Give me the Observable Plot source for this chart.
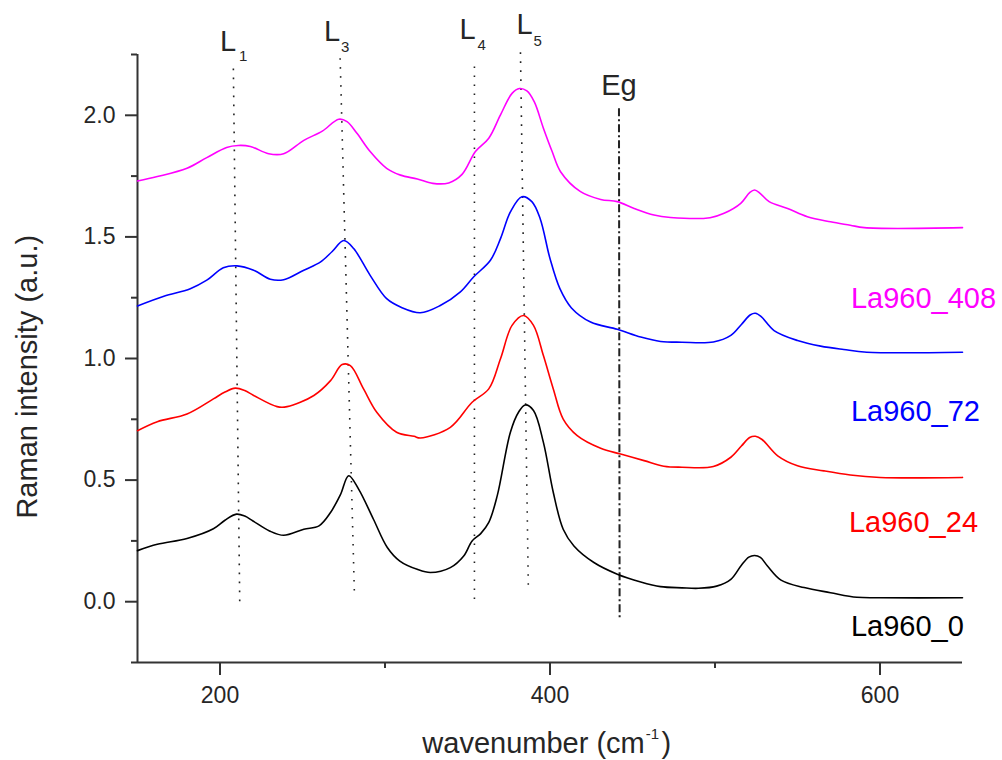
<!DOCTYPE html>
<html><head><meta charset="utf-8">
<script src="https://cdn.jsdelivr.net/npm/d3@7"></script>
<script src="https://cdn.jsdelivr.net/npm/@observablehq/plot@0.6"></script>
<style>html,body{margin:0;padding:0;background:#fff;} #chart{width:1002px;height:760px;}</style>
</head><body><div id="chart"></div>
<script>
// ---- data: [wavenumber (cm-1), Raman intensity (a.u., offset)] ----
const la960_0 = [[150,0.21],[162,0.236],[180,0.26],[196,0.30],[203,0.335],[210,0.36],[215,0.352],[220,0.332],[230,0.291],[238.6,0.273],[250.8,0.298],[260,0.312],[267,0.367],[273,0.44],[278,0.518],[284,0.463],[293,0.339],[301.4,0.223],[309,0.167],[319.5,0.133],[327.5,0.12],[339.6,0.14],[347.7,0.188],[352.8,0.25],[358,0.28],[362.9,0.326],[368,0.435],[376,0.697],[381,0.78],[385,0.809],[390,0.786],[396,0.655],[402,0.449],[408,0.298],[414.5,0.229],[426.6,0.161],[440.8,0.113],[455,0.081],[467,0.062],[480,0.057],[490,0.055],[501,0.064],[509.6,0.092],[516,0.15],[520.5,0.183],[524,0.19],[527.5,0.182],[531.8,0.147],[540,0.089],[554,0.058],[570,0.037],[586,0.018],[600,0.016],[650,0.016]];
const la960_24 = [[150,0.703],[162,0.74],[180,0.772],[196,0.834],[203,0.862],[209.3,0.878],[215,0.868],[220.4,0.848],[234.6,0.802],[240.7,0.802],[256.9,0.848],[267,0.909],[274,0.975],[279,0.971],[287,0.875],[295,0.779],[307,0.697],[317.6,0.68],[321.4,0.673],[339.6,0.717],[352.8,0.82],[362.9,0.875],[370,0.999],[377,1.136],[384,1.177],[390,1.136],[396,1.012],[402,0.875],[408,0.751],[416.5,0.683],[430.7,0.631],[442.8,0.607],[457,0.58],[469,0.557],[480,0.553],[499,0.556],[509.6,0.594],[516,0.64],[521,0.675],[524.5,0.68],[528.5,0.667],[538,0.6],[550,0.559],[566,0.538],[582,0.521],[600,0.511],[650,0.511]];
const la960_72 = [[150,1.216],[166,1.256],[182,1.287],[192,1.322],[202,1.373],[210.3,1.381],[220.4,1.363],[230.5,1.326],[238.6,1.324],[250.8,1.363],[261,1.397],[268,1.44],[275,1.485],[281,1.452],[291,1.342],[301,1.246],[310,1.21],[321.4,1.188],[333.5,1.218],[345.7,1.274],[353.8,1.336],[363.9,1.404],[370,1.493],[376,1.603],[383,1.665],[389,1.645],[394,1.576],[400,1.411],[406,1.287],[413,1.208],[424.6,1.15],[440.8,1.12],[455,1.088],[467,1.07],[480,1.067],[499,1.068],[509.6,1.095],[516,1.14],[521.5,1.18],[524.5,1.186],[528,1.172],[535.8,1.115],[550,1.074],[564,1.051],[578,1.037],[592,1.026],[650,1.026]];
const la960_408 = [[150,1.73],[162,1.748],[180,1.782],[192,1.826],[204,1.868],[211,1.876],[218.4,1.872],[229.5,1.842],[238.6,1.842],[250.8,1.897],[262,1.935],[272,1.984],[277,1.974],[283,1.926],[291,1.851],[301,1.782],[309.4,1.754],[319.6,1.738],[329,1.72],[338.6,1.722],[346.7,1.757],[354.8,1.851],[362.9,1.906],[370,2.002],[377,2.09],[381.5,2.11],[386,2.1],[390.5,2.055],[396,1.947],[401.3,1.851],[406.4,1.768],[418.5,1.686],[430.7,1.654],[440.8,1.645],[451,1.617],[463,1.59],[473,1.58],[497,1.579],[505.5,1.597],[515.6,1.638],[521,1.682],[524,1.693],[527.5,1.678],[532.8,1.645],[544,1.617],[556,1.583],[570,1.562],[582,1.548],[590.5,1.538],[650,1.538]];

const seriesNames = ["La960_0", "La960_24", "La960_72", "La960_408"];
const seriesColors = ["#000000", "#ff0000", "#0000ff", "#ff00ff"];
// label anchor in data coordinates
const seriesLabelX = [582.4, 581.2, 582.4, 582.4];
const seriesLabelY = [-0.143, 0.286, 0.743, 1.209];

const xMajorTicks = [200, 400, 600];
const xMinorTicks = [300, 500];
const yMajorTicks = [0, 0.5, 1.0, 1.5, 2.0];
const yMinorTicks = [-0.25, 0.25, 0.75, 1.25, 1.75, 2.25];

// peak guide lines (slightly slanted, as in the figure)
const peakNames = ["L1", "L3", "L4", "L5"];
const peakX1 = [208.1, 272.8, 354.2, 382.1];
const peakY1 = [2.192, 2.235, 2.201, 2.259];
const peakX2 = [212.0, 281.5, 354.2, 386.9];
const peakY2 = [-0.025, 0.023, -0.018, 0.044];
const peakLabelMain = ["L", "L", "L", "L"];
const peakLabelSub = ["1", "3", "4", "5"];
const peakLabelX = [200.0, 263.1, 345.2, 379.7];
const peakLabelY = [2.264, 2.307, 2.315, 2.334];
const peakSubX = [211.5, 273.4, 356.0, 390.0];
const peakSubY = [2.223, 2.262, 2.268, 2.287];

const egLine = {x1: 441.8, y1: 2.029, x2: 442.2, y2: -0.07};
const egLabel = {text: "Eg", x: 431.0, y: 2.082};

const seriesData = [la960_0, la960_24, la960_72, la960_408];

const font = "'Liberation Sans', Arial, Helvetica, sans-serif";
const textColor = "#262626";

const peaks = peakNames.map((n, i) => ({n, x1: peakX1[i], y1: peakY1[i], x2: peakX2[i], y2: peakY2[i],
  main: peakLabelMain[i], sub: peakLabelSub[i], lx: peakLabelX[i], ly: peakLabelY[i], sx: peakSubX[i], sy: peakSubY[i]}));
const labels = seriesNames.map((name, i) => ({name, color: seriesColors[i], x: seriesLabelX[i], y: seriesLabelY[i]}));

const marks = [
  // axis lines
  Plot.ruleX([150], {stroke: "#333", strokeWidth: 2}),
  Plot.ruleY([-0.25], {stroke: "#333", strokeWidth: 2}),
  Plot.axisX(xMajorTicks, {tickSize: 13, tickPadding: 11, fontSize: 23, label: null, color: textColor, stroke: "#333", strokeWidth: 2, tickFormat: d => String(d)}),
  Plot.axisX(xMinorTicks, {tickSize: 6, label: null, stroke: "#333", strokeWidth: 2, tickFormat: () => ""}),
  Plot.axisY(yMajorTicks, {tickSize: 12, tickPadding: 10, fontSize: 23, label: null, color: textColor, stroke: "#333", strokeWidth: 2, tickFormat: d3.format(".1f")}),
  Plot.axisY(yMinorTicks, {tickSize: 6, label: null, stroke: "#333", strokeWidth: 2, tickFormat: () => ""}),
  // peak guide lines
  Plot.link(peaks, {x1: "x1", y1: "y1", x2: "x2", y2: "y2", stroke: "#222", strokeWidth: 1.6, strokeDasharray: "1.6 7.4"}),
  Plot.link([egLine], {x1: "x1", y1: "y1", x2: "x2", y2: "y2", stroke: "#222", strokeWidth: 2, strokeDasharray: "8 3 2 3"}),
  // spectra
  ...seriesData.map((pts, i) => Plot.line(pts, {x: d => d[0], y: d => d[1], stroke: seriesColors[i], strokeWidth: 1.6, curve: "catmull-rom"})),
  // series labels
  Plot.text(labels, {x: "x", y: "y", text: "name", fill: "color", textAnchor: "start", lineAnchor: "bottom", fontSize: 29}),
  // peak labels
  Plot.text(peaks, {x: "lx", y: "ly", text: "main", fill: textColor, textAnchor: "start", lineAnchor: "bottom", fontSize: 29}),
  Plot.text(peaks, {x: "sx", y: "sy", text: "sub", fill: textColor, textAnchor: "start", lineAnchor: "bottom", fontSize: 15}),
  Plot.text([egLabel], {x: "x", y: "y", text: "text", fill: textColor, textAnchor: "start", lineAnchor: "bottom", fontSize: 29}),
  // axis titles
  Plot.text(["Raman intensity (a.u.)"], {x: 88.9, y: 0.925, text: d => d, rotate: -90, textAnchor: "middle", lineAnchor: "bottom", fontSize: 29, fill: textColor}),
  Plot.text(["wavenumber (cm"], {x: 457.4, y: -0.621, text: d => d, textAnchor: "end", lineAnchor: "bottom", fontSize: 29, fill: textColor}),
  Plot.text(["-1"], {x: 458.0, y: -0.565, text: d => d, textAnchor: "start", lineAnchor: "bottom", fontSize: 15, fill: textColor}),
  Plot.text([")"], {x: 467.5, y: -0.621, text: d => d, textAnchor: "start", lineAnchor: "bottom", fontSize: 29, fill: textColor})
];

const chart = Plot.plot({
  width: 1002,
  height: 760,
  marginLeft: 137,
  marginRight: 40,
  marginTop: 54,
  marginBottom: 98,
  x: {domain: [150, 650]},
  y: {domain: [-0.25, 2.25]},
  style: {fontFamily: font, fontSize: "23px", color: textColor, background: "#fff", overflow: "visible"},
  marks
});
document.getElementById("chart").appendChild(chart);
</script>
</body></html>
